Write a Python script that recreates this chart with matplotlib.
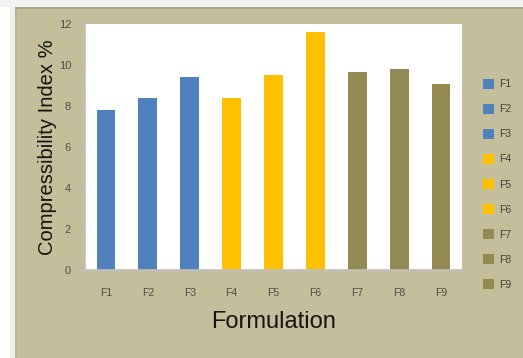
import matplotlib.pyplot as plt
from matplotlib.patches import Rectangle

plt.rcParams['font.family'] = ['Liberation Sans', 'DejaVu Sans']

formulations = ['F1', 'F2', 'F3', 'F4', 'F5', 'F6', 'F7', 'F8', 'F9']
index_values = [7.8, 8.4, 9.4, 8.4, 9.5, 11.6, 9.65, 9.8, 9.05]
bar_colors = ['#4F81BD'] * 3 + ['#FFC000'] * 3 + ['#948A54'] * 3

W, H = 523, 358
fig = plt.figure(figsize=(W / 100, H / 100), dpi=100)
fig.patch.set_facecolor('white')


def px_rect(x0, y0, x1, y1, color):
    # rectangle in pixel coords measured from the top-left corner
    fig.patches.append(Rectangle((x0 / W, 1 - y1 / H), (x1 - x0) / W, (y1 - y0) / H,
                                 transform=fig.transFigure, facecolor=color,
                                 edgecolor='none', zorder=-10))


px_rect(0, 0, W, 7, '#F2F2F2')
px_rect(10, 7, 15, H, '#EFEFEF')
px_rect(15, 7, W, 9, '#A8A58B')
px_rect(15, 9, 17, H, '#B9B394')
px_rect(17, 9, W, H, '#C5BE9A')

ax = fig.add_axes([85 / W, 1 - 270 / H, (462 - 85) / W, (270 - 24) / H])
ax.set_facecolor('white')

x = range(len(formulations))
for i in x:
    ax.bar(i, index_values[i], width=0.45, color=bar_colors[i],
           label=formulations[i], zorder=2)

ax.set_xlim(-0.5, len(formulations) - 0.5)
ax.set_ylim(0, 12)
ax.set_yticks(range(0, 13, 2))
ax.set_xticks(list(x))
ax.set_xticklabels(formulations)
ax.set_xticks([i - 0.5 for i in range(len(formulations) + 1)], minor=True)

for side in ['top', 'right']:
    ax.spines[side].set_visible(False)
for side in ['left', 'bottom']:
    ax.spines[side].set_color('#BFBFBF')
    ax.spines[side].set_linewidth(1.2)

ax.tick_params(axis='x', which='major', length=0, pad=13, labelsize=7.5,
               labelcolor='#4D4D4D')
ax.tick_params(axis='x', which='minor', length=4, color='#BFBFBF', width=1)
ax.tick_params(axis='y', length=4, color='#BFBFBF', width=1, labelsize=8,
               labelcolor='#4D4D4D', pad=6)

ax.set_xlabel('Formulation', fontsize=17, color='#141414', labelpad=9)
ax.set_ylabel('Compressibility Index %', fontsize=14.5, color='#141414', labelpad=1)

leg = ax.legend(loc='upper left', bbox_to_anchor=(478 / W, 1 - 74 / H),
                bbox_transform=fig.transFigure, frameon=False, fontsize=7.5,
                handlelength=1.0, handleheight=1.0, handletextpad=0.5,
                labelspacing=1.42, borderpad=0)
for t in leg.get_texts():
    t.set_color('#404040')

fig.savefig('out.png', dpi=100)
